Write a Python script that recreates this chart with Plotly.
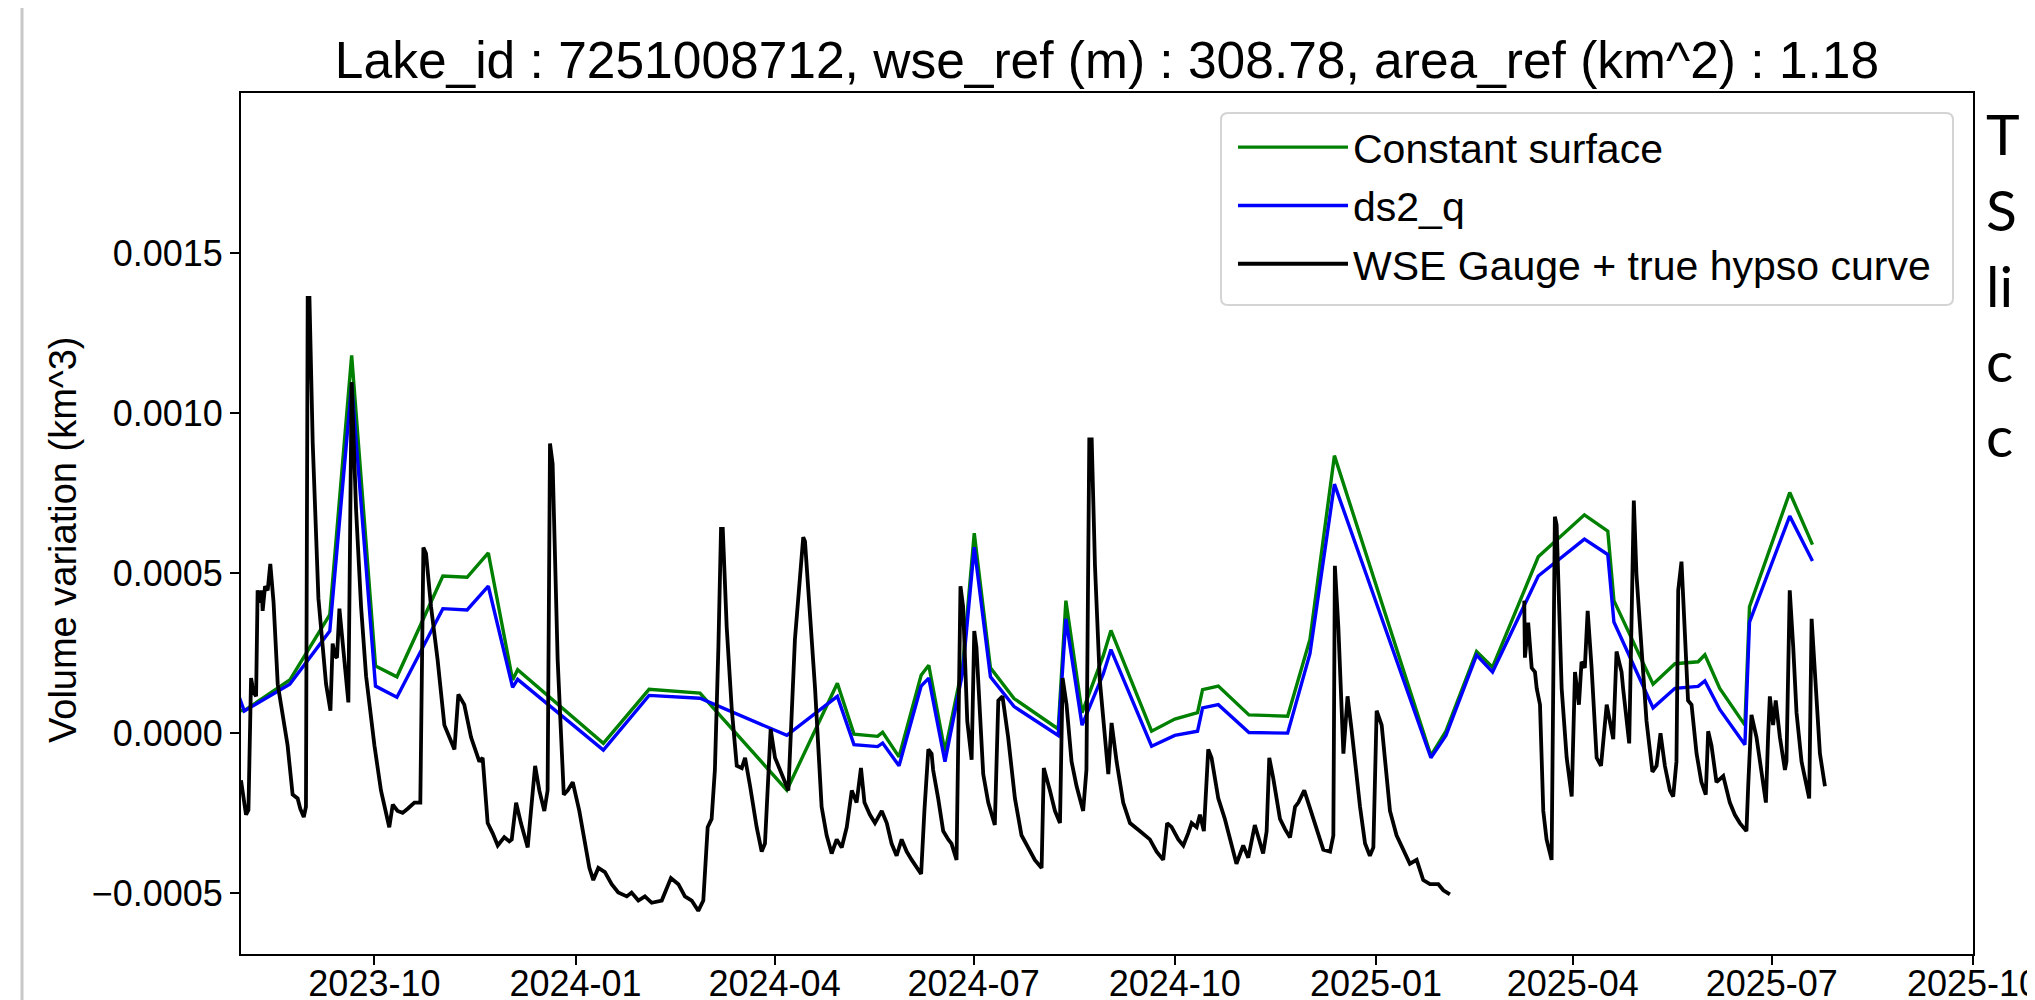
import pandas as pd
import plotly.graph_objects as go

# ---------------- data ----------------
BASE_DATE = "2023-08-01"

# SWOT observation epochs (days after BASE_DATE)
swot_days = [-2, 1.5, 22.3, 40.6, 50.6, 61.5, 71.3, 92.3, 103.4, 113.1, 124.2, 126.5,
             165.7, 186.6, 209.9, 249.6, 272.7, 280.3, 291.1, 293.4, 300.9, 311.0, 314.5,
             321.9, 330.0, 335.3, 342.7, 353.5, 373.7, 377.2, 384.6, 394.3, 397.8, 416.4,
             427.0, 437.4, 439.7, 446.9, 460.9, 478.6, 488.8, 500.0, 544.1, 551.0, 565.0,
             572.3, 593.2, 614.3, 625.0, 627.8, 645.7, 655.7, 666.3, 669.4, 676.2, 687.7,
             689.8, 708.2, 718.6]

constant_surface = [0.72e-4, 0.70e-4, 1.66e-4, 3.70e-4, 11.80e-4, 2.10e-4, 1.76e-4, 4.91e-4,
                    4.87e-4, 5.63e-4, 1.66e-4, 1.98e-4, -0.32e-4, 1.37e-4, 1.25e-4, -1.78e-4,
                    1.56e-4, -0.03e-4, -0.10e-4, 0.03e-4, -0.74e-4, 1.81e-4, 2.12e-4, -0.58e-4,
                    2.10e-4, 6.25e-4, 2.04e-4, 1.08e-4, 0.13e-4, 4.14e-4, 0.64e-4, 2.42e-4,
                    3.21e-4, 0.06e-4, 0.44e-4, 0.64e-4, 1.36e-4, 1.47e-4, 0.57e-4, 0.53e-4,
                    2.93e-4, 8.67e-4, -0.70e-4, 0.06e-4, 2.55e-4, 2.06e-4, 5.51e-4, 6.82e-4,
                    6.31e-4, 4.14e-4, 1.53e-4, 2.17e-4, 2.23e-4, 2.45e-4, 1.40e-4, 0.25e-4,
                    3.95e-4, 7.52e-4, 5.89e-4]

ds2_q = [1.35e-4, 0.69e-4, 1.53e-4, 3.19e-4, 10.90e-4, 1.47e-4, 1.12e-4, 3.89e-4,
         3.85e-4, 4.59e-4, 1.43e-4, 1.68e-4, -0.53e-4, 1.18e-4, 1.09e-4, -0.07e-4,
         1.15e-4, -0.36e-4, -0.42e-4, -0.31e-4, -1.02e-4, 1.47e-4, 1.72e-4, -0.89e-4,
         1.90e-4, 5.81e-4, 1.76e-4, 0.83e-4, -0.07e-4, 3.57e-4, 0.25e-4, 1.85e-4,
         2.61e-4, -0.41e-4, -0.07e-4, 0.06e-4, 0.79e-4, 0.89e-4, 0.02e-4, 0.00e-4,
         2.48e-4, 7.78e-4, -0.77e-4, -0.07e-4, 2.44e-4, 1.91e-4, 4.91e-4, 6.06e-4,
         5.58e-4, 3.47e-4, 0.79e-4, 1.40e-4, 1.46e-4, 1.63e-4, 0.74e-4, -0.36e-4,
         3.47e-4, 6.78e-4, 5.38e-4]

# Gauge record (days after BASE_DATE); None marks the data gap
gauge_days = [0, 2.3, 3.4, 4.6, 5.8, 6.9, 7.6, 8.8, 9.5, 9.9, 11.0, 12.2, 13.4, 14.9, 16.8,
              19.1, 21.3, 23.6, 25.9, 27.1, 28.7, 29.7, 30.5, 31.3, 32.8, 35.4, 38.9, 40.9,
              41.9, 43.1, 43.9, 45.0, 47.3, 49.1, 50.6, 52.6, 54.9, 57.2, 61.0, 64.0, 67.8,
              69.4, 71.6, 73.9, 76.2, 79.3, 82.0, 83.4, 84.6, 86.9, 89.9, 93.0, 95.3, 97.6,
              99.4, 102.1, 105.2, 109.0, 110.5, 112.8, 115.1, 117.4, 120.4, 122.7, 123.8,
              125.8, 128.0, 131.1, 132.6, 134.5, 136.4, 138.7, 140.2, 141.3, 142.5, 144.8,
              147.6, 149.4, 151.7, 154.7, 157.0, 159.3, 161.1, 163.4, 166.4, 169.5, 172.5,
              176.4, 178.6, 181.7, 184.7, 187.8, 192.4, 194.6, 196.6, 200.0, 203.0, 206.1,
              209.1, 211.4, 213.4, 215.2, 216.7, 218.3, 219.5, 220.3, 222.1, 224.4, 226.7,
              229.0, 230.5, 232.8, 235.8, 238.1, 239.6, 242.2, 244.2, 246.5, 248.8, 250.3,
              253.3, 257.1, 257.9, 260.2, 262.5, 265.5, 267.8, 270.1, 272.4, 274.7, 277.0,
              279.3, 281.5, 283.5, 285.1, 287.6, 289.9, 293.0, 295.3, 297.5, 299.8, 302.1,
              304.4, 306.7, 309.0, 311.0, 312.5, 314.3, 315.8, 316.5, 318.8, 321.1, 323.4,
              324.9, 327.2, 329.0, 330.2, 332.1, 334.1, 335.3, 336.3, 339.4, 341.7, 344.7,
              346.3, 348.2, 350.8, 353.9, 356.9, 360.0, 363.0, 366.1, 367.1, 369.9, 372.2,
              374.5, 375.7, 377.5, 379.8, 382.1, 385.1, 386.6, 387.9, 389.0, 390.5, 392.7,
              395.0, 396.6, 398.1, 400.4, 403.4, 406.5, 411.0, 415.6, 418.7, 421.7, 423.5,
              425.5, 428.6, 430.9, 433.1, 434.7, 437.0, 438.5, 440.3, 442.3, 443.8, 446.9,
              449.9, 453.0, 455.2, 458.3, 460.6, 463.6, 465.9, 467.4, 469.0, 470.2, 472.0,
              475.1, 477.4, 479.7, 482.0, 483.5, 486.2, 488.0, 491.9, 494.9, 498.0, 499.5,
              500.2, 501.8, 504.1, 506.0, 507.8, 511.7, 514.0, 516.2, 517.8, 519.3, 521.6,
              525.4, 528.4, 531.5, 534.5, 537.6, 540.6, 543.7, 547.5, 549.8, 552.8, 570.0,
              586.8, 587.1, 588.6, 590.2, 591.7, 592.5, 594.0, 595.5, 597.0, 599.3, 600.8,
              601.6, 603.9, 606.2, 608.5, 610.0, 611.8, 613.0, 614.5, 615.8, 617.6, 619.9,
              621.9, 624.5, 627.5, 629.0, 631.3, 632.0, 634.8, 636.9, 638.1, 640.4, 642.7,
              645.4, 647.3, 649.1, 651.1, 653.4, 654.9, 656.4, 657.2, 658.7, 660.2, 661.7,
              663.3, 665.6, 667.8, 669.8, 670.9, 672.4, 674.7, 677.8, 680.8, 683.1, 685.4,
              688.4, 689.2, 690.7, 693.0, 695.3, 697.3, 698.3, 699.1, 700.6, 701.8, 703.7,
              706.0, 706.7, 708.2, 709.8, 711.3, 713.6, 717.1, 718.2, 720.4, 722.0, 724.3]

gauge_volume = [-1.47e-4, -2.55e-4, -2.40e-4, 1.72e-4, 1.27e-4, 1.15e-4, 4.46e-4, 4.08e-4,
                4.46e-4, 3.82e-4, 4.59e-4, 4.46e-4, 5.29e-4, 4.08e-4, 1.53e-4, 0.51e-4,
                -0.38e-4, -1.92e-4, -2.04e-4, -2.36e-4, -2.62e-4, -2.30e-4, 13.6e-4, 13.6e-4,
                9.05e-4, 4.21e-4, 1.53e-4, 0.70e-4, 2.80e-4, 2.40e-4, 2.36e-4, 3.89e-4,
                2.17e-4, 0.96e-4, 10.97e-4, 7.01e-4, 3.95e-4, 1.78e-4, -0.38e-4, -1.79e-4,
                -2.94e-4, -2.23e-4, -2.43e-4, -2.49e-4, -2.36e-4, -2.17e-4, -2.17e-4,
                5.80e-4, 5.61e-4, 3.95e-4, 2.29e-4, 0.25e-4, -0.13e-4, -0.51e-4, 1.21e-4,
                0.89e-4, -0.13e-4, -0.89e-4, -0.77e-4, -2.81e-4, -3.13e-4, -3.51e-4,
                -3.25e-4, -3.38e-4, -3.32e-4, -2.17e-4, -2.81e-4, -3.57e-4, -2.43e-4,
                -1.02e-4, -1.79e-4, -2.43e-4, -1.79e-4, 9.05e-4, 8.41e-4, 2.29e-4, -1.92e-4,
                -1.79e-4, -1.53e-4, -2.43e-4, -3.32e-4, -4.21e-4, -4.59e-4, -4.21e-4,
                -4.34e-4, -4.72e-4, -4.98e-4, -5.10e-4, -4.98e-4, -5.23e-4, -5.10e-4,
                -5.30e-4, -5.23e-4, -4.85e-4, -4.53e-4, -4.72e-4, -5.10e-4, -5.23e-4,
                -5.55e-4, -5.23e-4, -2.94e-4, -2.68e-4, -1.15e-4, 2.68e-4, 6.38e-4, 6.38e-4,
                3.31e-4, 0.76e-4, -1.02e-4, -1.09e-4, -0.77e-4, -1.66e-4, -2.94e-4,
                -3.70e-4, -3.45e-4, 0.13e-4, -0.77e-4, -1.15e-4, -1.53e-4, -1.79e-4,
                2.93e-4, 6.12e-4, 5.99e-4, 3.70e-4, 1.40e-4, -2.30e-4, -3.19e-4, -3.76e-4,
                -3.32e-4, -3.57e-4, -2.94e-4, -1.79e-4, -2.17e-4, -1.09e-4, -2.17e-4,
                -2.55e-4, -2.81e-4, -2.43e-4, -2.81e-4, -3.45e-4, -3.83e-4, -3.32e-4,
                -3.70e-4, -3.96e-4, -4.21e-4, -4.40e-4, -2.43e-4, -0.51e-4, -0.64e-4,
                -1.15e-4, -2.04e-4, -3.06e-4, -3.32e-4, -3.45e-4, -3.96e-4, 4.59e-4,
                3.95e-4, 0.38e-4, -0.83e-4, 3.19e-4, 2.68e-4, -1.28e-4, -2.17e-4, -2.87e-4,
                1.02e-4, 1.15e-4, -0.13e-4, -2.04e-4, -3.19e-4, -3.57e-4, -3.96e-4,
                -4.21e-4, -1.09e-4, -1.79e-4, -2.43e-4, -2.81e-4, 1.72e-4, 0.89e-4,
                -0.89e-4, -1.66e-4, -2.43e-4, -1.15e-4, 9.18e-4, 9.18e-4, 5.23e-4, 1.66e-4,
                -0.26e-4, -1.28e-4, 0.32e-4, -0.89e-4, -2.17e-4, -2.81e-4, -3.06e-4,
                -3.32e-4, -3.70e-4, -3.96e-4, -2.81e-4, -2.93e-4, -3.32e-4, -3.51e-4,
                -3.13e-4, -2.81e-4, -2.94e-4, -2.55e-4, -3.06e-4, -0.51e-4, -0.77e-4,
                -2.04e-4, -2.68e-4, -3.57e-4, -4.08e-4, -3.51e-4, -3.89e-4, -2.87e-4,
                -3.45e-4, -3.76e-4, -3.07e-4, -0.77e-4, -1.40e-4, -2.68e-4, -3.00e-4,
                -3.26e-4, -2.30e-4, -2.17e-4, -1.79e-4, -2.17e-4, -3.00e-4, -3.64e-4,
                -3.70e-4, -3.20e-4, 5.23e-4, 3.30e-4, -0.64e-4, 1.15e-4, 0.13e-4, -2.30e-4,
                -3.45e-4, -3.83e-4, -3.57e-4, 0.70e-4, 0.25e-4, -2.43e-4, -3.19e-4,
                -3.64e-4, -4.08e-4, -3.96e-4, -4.59e-4, -4.72e-4, -4.72e-4, -4.91e-4,
                -5.04e-4, None,
                4.14e-4, 2.36e-4, 3.45e-4, 2.04e-4, 1.91e-4, 1.40e-4, 0.89e-4, -2.43e-4,
                -3.32e-4, -3.96e-4, 6.76e-4, 6.51e-4, 1.40e-4, -0.77e-4, -1.98e-4, 1.91e-4,
                0.89e-4, 2.23e-4, 2.04e-4, 3.82e-4, 2.04e-4, -0.77e-4, -1.02e-4, 0.89e-4,
                -0.19e-4, 2.55e-4, 1.91e-4, 1.40e-4, -0.32e-4, 7.27e-4, 4.97e-4, 2.68e-4,
                0.38e-4, -1.21e-4, -1.02e-4, 0.00e-4, -1.02e-4, -1.79e-4, -1.98e-4,
                -0.89e-4, 4.46e-4, 5.36e-4, 3.06e-4, 1.02e-4, 0.89e-4, -0.64e-4, -1.53e-4,
                -1.92e-4, 0.06e-4, -0.38e-4, -1.53e-4, -1.34e-4, -2.17e-4, -2.55e-4,
                -2.81e-4, -3.06e-4, -1.66e-4, 0.57e-4, -0.13e-4, -1.28e-4, -2.17e-4,
                -0.10e-4, 1.15e-4, 0.25e-4, 1.02e-4, -0.13e-4, -1.15e-4, -0.89e-4, 4.46e-4,
                2.68e-4, 0.64e-4, -0.89e-4, -2.04e-4, 3.57e-4, 0.89e-4, -0.64e-4, -1.66e-4]

series_names = ["Constant surface", "ds2_q", "WSE Gauge + true hypso curve"]
series_colors = ["#008000", "#0000ff", "#000000"]

y_tick_values = [-0.0005, 0.0, 0.0005, 0.0010, 0.0015]
x_range = ["2023-08-01", "2025-10-01"]
y_range = [-0.00069, 0.0020]

title_text = "Lake_id : 7251008712, wse_ref (m) : 308.78, area_ref (km^2) : 1.18"
y_title = "Volume variation (km^3)"
side_text_lines = ["T", "S", "li", "c", "c"]

# ---------------- figure ----------------
base = pd.Timestamp(BASE_DATE)
swot_dates = base + pd.to_timedelta(swot_days, unit="D")
gauge_dates = base + pd.to_timedelta(gauge_days, unit="D")

OFF = 8                      # default page margin of the HTML body
SW, SH = 2035, 1000          # screen size
W, H = SW - OFF, SH - OFF    # figure size
# target plot box in screen pixels
PX0, PX1, PY0, PY1 = 241, 1973, 93, 954
L, T = PX0 - OFF, PY0 - OFF
R, B = W - (PX1 - OFF), H - (PY1 - OFF)
PW, PH = PX1 - PX0, PY1 - PY0


def px_x(p):
    return (p - PX0) / PW


def px_y(p):
    return (PY1 - p) / PH


FONT = "Liberation Sans, Arial, sans-serif"

fig = go.Figure()
fig.add_trace(go.Scatter(x=swot_dates, y=constant_surface, mode="lines", name=series_names[0],
                         legendgroup="a", line=dict(color=series_colors[0], width=3.4)))
fig.add_trace(go.Scatter(x=swot_dates, y=ds2_q, mode="lines", name=series_names[1],
                         legendgroup="b", line=dict(color=series_colors[1], width=3.4)))
fig.add_trace(go.Scatter(x=gauge_dates, y=gauge_volume, mode="lines", name=series_names[2],
                         legendgroup="c", line=dict(color=series_colors[2], width=3.8),
                         connectgaps=False))

axis_common = dict(showline=True, linecolor="black", linewidth=2, mirror=True,
                   ticks="outside", ticklen=9, tickwidth=2, tickcolor="black",
                   showgrid=False, zeroline=False, automargin=False,
                   ticklabeloverflow="allow",
                   tickfont=dict(family=FONT, size=36, color="black"))

fig.update_layout(
    width=W, height=H,
    margin=dict(l=L, r=R, t=T, b=B, autoexpand=False),
    paper_bgcolor="white", plot_bgcolor="white",
    font=dict(family=FONT, color="black"),
    title=dict(text=title_text, x=0.5, xref="paper", xanchor="center",
               y=1 - (60 - OFF) / H, yref="container", yanchor="middle",
               font=dict(family=FONT, size=51.5, color="black")),
    xaxis=dict(range=x_range, type="date", dtick="M3", tick0="2023-01-01",
               tickformat="%Y-%m", ticklabelstandoff=-12, **axis_common),
    yaxis=dict(range=y_range, tickvals=y_tick_values, tickformat=".4f",
               **axis_common),
    legend=dict(x=px_x(1233), y=px_y(114), xanchor="left", yanchor="top",
                bgcolor="rgba(0,0,0,0)", borderwidth=0,
                font=dict(family=FONT, size=41, color="black"), itemwidth=110,
                tracegroupgap=2),
    showlegend=True,
)

# rounded legend frame (matplotlib style)
bx0, bx1, by0, by1 = px_x(1221), px_x(1953), px_y(305), px_y(113)
rx, ry = 7 / PW, 7 / PH
frame_path = (f"M{bx0 + rx},{by1} L{bx1 - rx},{by1} Q{bx1},{by1} {bx1},{by1 - ry} "
              f"L{bx1},{by0 + ry} Q{bx1},{by0} {bx1 - rx},{by0} L{bx0 + rx},{by0} "
              f"Q{bx0},{by0} {bx0},{by0 + ry} L{bx0},{by1 - ry} Q{bx0},{by1} {bx0 + rx},{by1} Z")
fig.add_shape(type="path", xref="paper", yref="paper", path=frame_path,
              fillcolor="rgba(255,255,255,0.8)", line=dict(color="#d4d4d4", width=2),
              layer="above")

# y-axis label
fig.add_annotation(text=y_title, xref="paper", yref="paper", x=px_x(63), y=px_y(540),
                   xanchor="center", yanchor="middle", textangle=-90, showarrow=False,
                   font=dict(family=FONT, size=38, color="black"))

# thin grey frame line on the far left of the slide
fig.add_shape(type="line", xref="paper", yref="paper",
              x0=px_x(22), x1=px_x(22), y0=px_y(0), y1=px_y(SH),
              line=dict(color="#c8c8c8", width=3), layer="above")

# cut-off slide text on the right
baselines = [153, 229, 305, 380, 455]
for txt, bl in zip(side_text_lines, baselines):
    fig.add_annotation(text=txt, xref="paper", yref="paper", x=px_x(1984), y=px_y(bl - 20),
                       xanchor="left", yanchor="middle", showarrow=False,
                       font=dict(family="Lato, Carlito, sans-serif", size=57, color="black"))

fig.write_html("out.html")
